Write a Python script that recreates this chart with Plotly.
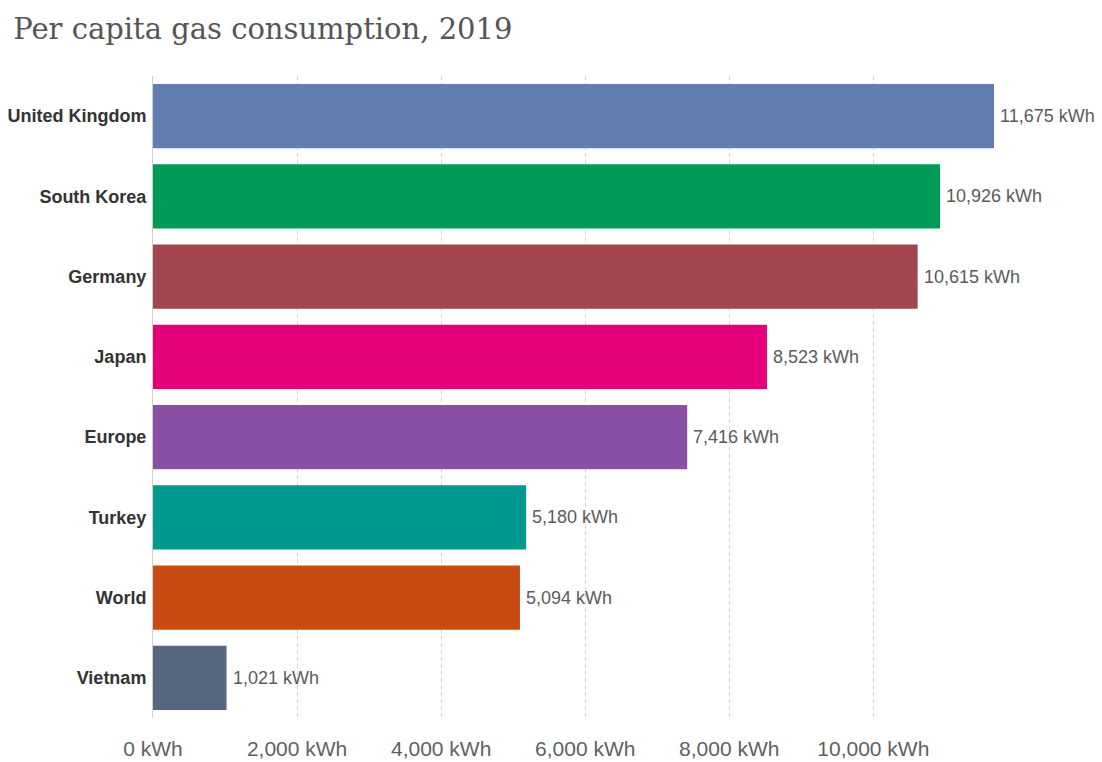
import plotly.graph_objects as go

countries = ["United Kingdom", "South Korea", "Germany", "Japan", "Europe", "Turkey", "World", "Vietnam"]
gas_kwh = [11675, 10926, 10615, 8523, 7416, 5180, 5094, 1021]
bar_colors = ["#627daf", "#009b57", "#a2464f", "#e5007a", "#8a50a5", "#00998f", "#c84b11", "#56687f"]
tick_vals = [0, 2000, 4000, 6000, 8000, 10000]

sans = "Liberation Sans, Arial, sans-serif"

fig = go.Figure(
    go.Bar(
        x=gas_kwh,
        y=countries,
        orientation="h",
        marker=dict(color=bar_colors, line=dict(width=0)),
        hoverinfo="x+y",
    )
)

# value labels placed just right of each bar end
for country, value in zip(countries, gas_kwh):
    fig.add_annotation(
        x=value,
        y=country,
        text=f"{value:,} kWh",
        showarrow=False,
        xanchor="left",
        yanchor="middle",
        xshift=4,
        font=dict(family=sans, size=18, color="#5b5b5b"),
    )

fig.update_layout(
    width=1102,
    height=762,
    paper_bgcolor="white",
    plot_bgcolor="white",
    margin=dict(l=153, r=108, t=76, b=44),
    bargap=0.2,
    showlegend=False,
    title=dict(
        text="Per capita gas consumption, 2019",
        font=dict(family="DejaVu Serif, Georgia, serif", size=29, color="#555555"),
        x=0.012,
        xanchor="left",
        y=0.962,
        yanchor="middle",
    ),
    xaxis=dict(
        range=[0, 11675],
        tickvals=tick_vals,
        ticktext=[f"{v:,} kWh" for v in tick_vals],
        showgrid=True,
        gridcolor="#d6d6d6",
        griddash="4px,3px",
        gridwidth=1,
        zeroline=False,
        showline=False,
        ticks="",
        automargin=False,
        tickfont=dict(family=sans, size=21, color="#5f5f5f"),
        ticklabelstandoff=16,
    ),
    yaxis=dict(
        categoryorder="array",
        categoryarray=countries[::-1],
        showgrid=False,
        showline=True,
        linecolor="#d0d0d0",
        linewidth=1,
        ticks="",
        automargin=False,
        ticklabelstandoff=2,
        tickfont=dict(family=sans, size=18, color="#333333", weight="bold"),
    ),
)

fig.write_html("out.html")
